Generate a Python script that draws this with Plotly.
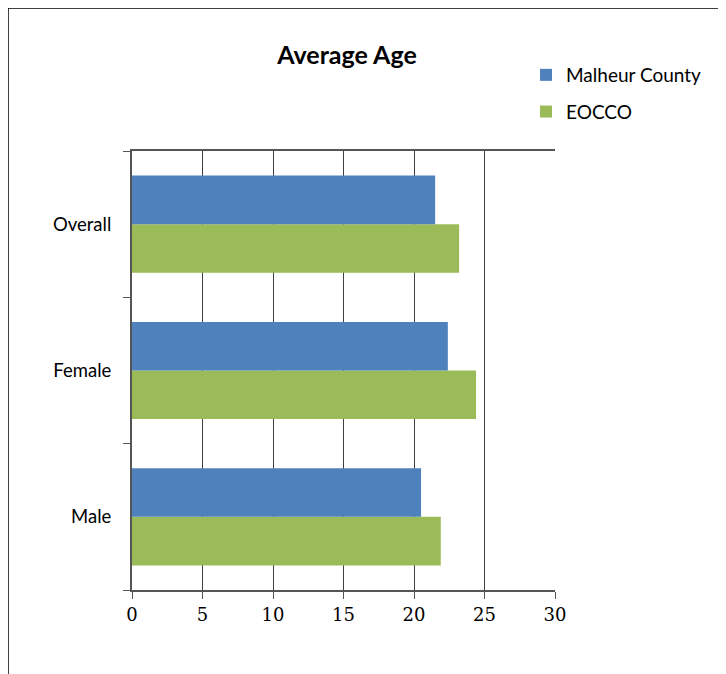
import plotly.graph_objects as go

categories = ["Male", "Female", "Overall"]
malheur = [20.5, 22.4, 21.5]
eocco = [21.9, 24.4, 23.2]
x_ticks = [0, 5, 10, 15, 20, 25, 30]

W, H = 726, 674
OFF = 8  # page offset of the figure
L, T = 132 - OFF, 151 - OFF
R = W - (555 - OFF)
B = H - (590 - OFF)
pw, ph = W - L - R, H - T - B

fig = go.Figure()
fig.add_trace(go.Bar(y=categories, x=eocco, orientation="h", name="EOCCO",
                     marker=dict(color="#9BBB59", line=dict(width=0)),
                     legendgroup="b", legendrank=2))
fig.add_trace(go.Bar(y=categories, x=malheur, orientation="h", name="Malheur County",
                     marker=dict(color="#4F81BD", line=dict(width=0)),
                     legendgroup="a", legendrank=1))

def px_x(p):
    return (p - OFF - L) / pw

def px_y(p):
    return (H - B - (p - OFF)) / ph

fig.update_layout(
    width=W, height=H,
    margin=dict(l=L, r=R, t=T, b=B),
    paper_bgcolor="white", plot_bgcolor="white",
    barmode="group", bargap=0.336, bargroupgap=0,
    title=dict(text="<b>Average Age</b>", x=(347 - OFF) / W, xanchor="center",
               y=1 - (55 - OFF) / H, yanchor="middle",
               font=dict(family="Lato, Open Sans, sans-serif", size=25, color="black")),
    legend=dict(x=px_x(526), y=px_y(56), xanchor="left", yanchor="top",
                traceorder="grouped", tracegroupgap=9,
                font=dict(family="Lato, Open Sans, sans-serif", size=19, color="black"),
                bgcolor="rgba(0,0,0,0)", itemwidth=30),
    showlegend=True,
    xaxis=dict(range=[0, 30], tickvals=x_ticks, ticktext=[str(v) for v in x_ticks],
               showgrid=True, gridcolor="#404040", gridwidth=1,
               showline=True, linecolor="#555555", linewidth=2, mirror=True,
               ticks="outside", ticklen=7, tickcolor="#555555", tickwidth=1,
               zeroline=False,
               tickfont=dict(family="DejaVu Serif, Liberation Serif, serif", size=18, color="black")),
    yaxis=dict(categoryorder="array", categoryarray=categories,
               showline=True, linecolor="#555555", linewidth=2,
               ticks="outside", ticklen=7, tickcolor="#555555", tickson="boundaries",
               showgrid=False, ticklabelstandoff=15,
               tickfont=dict(family="Lato, Open Sans, sans-serif", size=18.5, color="black")),
    shapes=[
        dict(type="line", xref="paper", yref="paper", x0=px_x(8), x1=px_x(760),
             y0=px_y(8), y1=px_y(8), line=dict(color="black", width=1.5)),
        dict(type="line", xref="paper", yref="paper", x0=px_x(8), x1=px_x(8),
             y0=px_y(8), y1=px_y(700), line=dict(color="black", width=1.5)),
    ],
)

fig.write_html("out.html")
